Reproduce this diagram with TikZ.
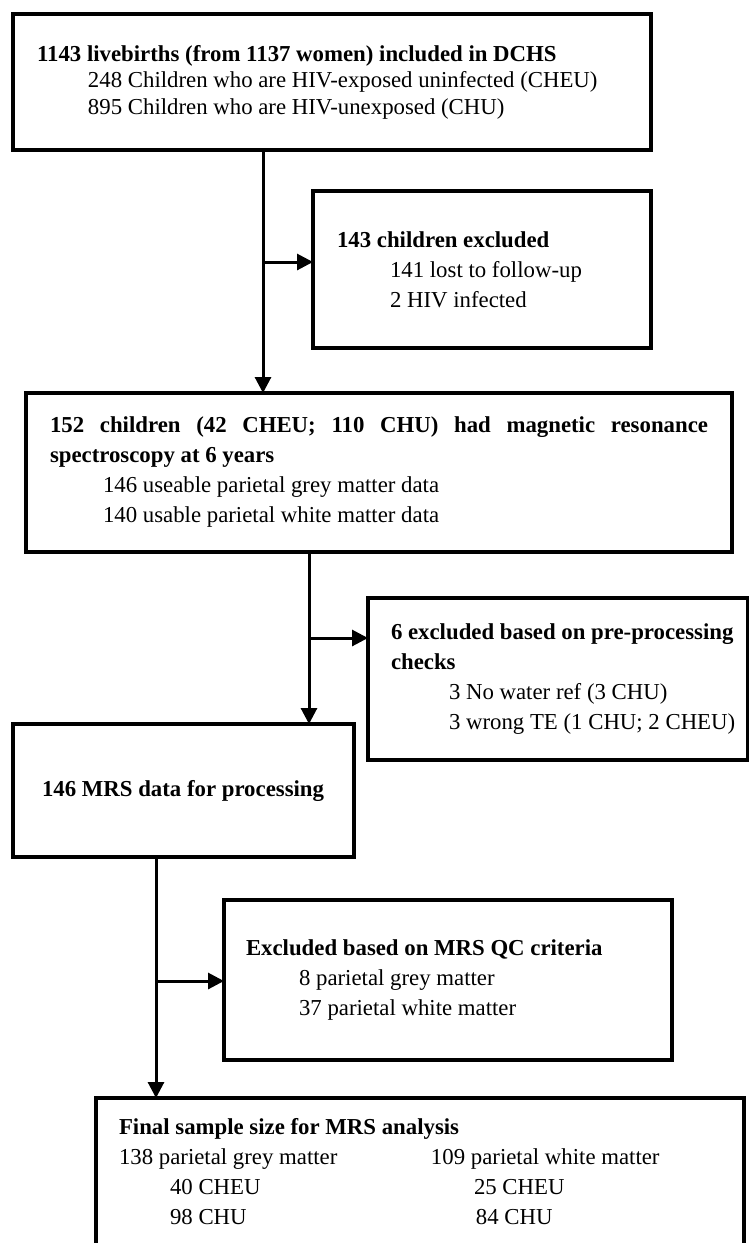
\documentclass[tikz,border=0pt]{standalone}
\usepackage{fontspec}
\setmainfont{Liberation Serif}
\usetikzlibrary{arrows.meta}

\tikzset{
    box/.style={draw, line width=3.8pt, anchor=north west, outer sep=0pt, inner ysep=0pt,
        align=left, font=\fontsize{22.8}{30}\selectfont,
        execute at begin node={\spaceskip=0pt\xspaceskip=0pt}},
    arr/.style={line width=3pt, -{Triangle[length=16pt,width=16pt]}}
}

\begin{document}
\begin{tikzpicture}[x=1pt, y=-1pt]
    \clip (0,0) rectangle (749,1243);
    \fill[white] (0,0) rectangle (749,1243);

    \node[box, text width=590pt, inner xsep=24pt, minimum height=136pt,
        font=\fontsize{22.8}{26.5}\selectfont] (births) at (13,14)
        {\textbf{1143 livebirths (from 1137 women) included in DCHS}\\
        \hspace*{51pt}248 Children who are HIV-exposed uninfected (CHEU)\\
        \hspace*{51pt}895 Children who are HIV-unexposed (CHU)};
    \node[box, text width=290pt, inner xsep=24pt, minimum height=157pt] (lost) at (313,191)
        {\textbf{143 children excluded}\\
        \hspace*{53pt}141 lost to follow-up\\
        \hspace*{53pt}2 HIV infected};
    \node[box, text width=658pt, inner xsep=24pt, minimum height=159pt] (mrs) at (26,393)
        {\makebox[658pt][s]{\textbf{152 children (42 CHEU; 110 CHU) had magnetic resonance}}\\
        \textbf{spectroscopy at 6 years}\\
        \hspace*{53pt}146 useable parietal grey matter data\\
        \hspace*{53pt}140 usable parietal white matter data};
    \node[box, text width=334pt, inner xsep=23pt, minimum height=162pt] (prep) at (368,598)
        {\mbox{\textbf{6 excluded based on pre-processing}}\\
        \textbf{checks}\\
        \hspace*{58pt}3 No water ref (3 CHU)\\
        \hspace*{58pt}\mbox{3 wrong TE (1 CHU; 2 CHEU)}};
    \node[box, text width=283pt, inner xsep=29pt, minimum height=133pt] (proc) at (13,724)
        {\mbox{\textbf{146 MRS data for processing}}};
    \node[box, text width=404pt, inner xsep=22pt, minimum height=160pt] (qc) at (224,900)
        {\textbf{Excluded based on MRS QC criteria}\\
        \hspace*{53pt}8 parietal grey matter\\
        \hspace*{53pt}37 parietal white matter};
    \node[box, text width=602pt, inner xsep=23pt, minimum height=148pt] (final) at (96,1098)
        {\textbf{Final sample size for MRS analysis}\\
        \makebox[312pt][l]{138 parietal grey matter}109 parietal white matter\\
        \makebox[355pt][l]{\hspace*{51pt}40 CHEU}25 CHEU\\
        \makebox[357pt][l]{\hspace*{51pt}98 CHU}84 CHU};

    \coordinate (j1) at (263,262);
    \coordinate (j2) at (309,638);
    \coordinate (j3) at (156,981);

    \draw[arr] (births.south -| j1) -- (mrs.north -| j1);
    \draw[arr] (j1) -- (j1 -| lost.west);
    \draw[arr] (mrs.south -| j2) -- (proc.north -| j2);
    \draw[arr] (j2) -- (j2 -| prep.west);
    \draw[arr] (proc.south -| j3) -- (final.north -| j3);
    \draw[arr] (j3) -- (j3 -| qc.west);
\end{tikzpicture}
\end{document}
